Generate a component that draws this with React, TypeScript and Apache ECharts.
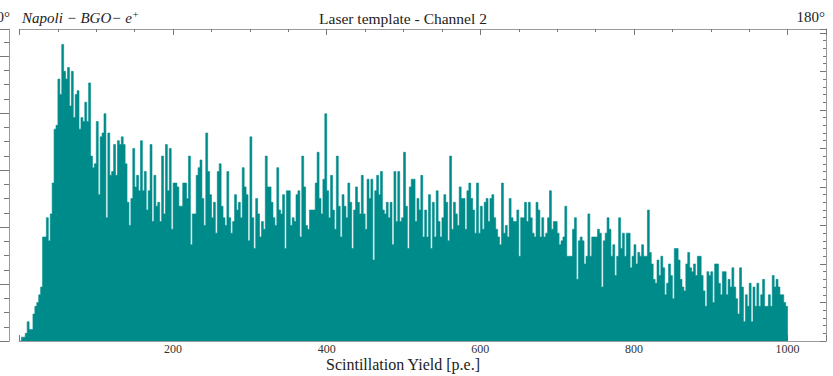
import React, { useEffect, useRef } from 'react';
import * as echarts from 'echarts';

// Histogram: bin width in p.e., counts per bin
const binWidth = 2.5;
const counts: number[] = [
  0, 1, 1, 2, 5, 3, 3, 7, 9, 10, 12, 14, 27, 27, 32, 26, 33, 41, 55, 56,
  68, 64, 77, 70, 68, 71, 61, 70, 58, 64, 65, 55, 58, 57, 62, 57, 67, 48, 45, 46,
  57, 38, 53, 54, 59, 32, 54, 43, 44, 51, 43, 52, 51, 53, 51, 46, 36, 30, 37, 50,
  40, 43, 39, 52, 39, 44, 34, 39, 51, 31, 43, 35, 36, 31, 48, 33, 51, 39, 50, 29,
  41, 41, 40, 35, 35, 41, 41, 37, 48, 25, 33, 33, 43, 45, 47, 37, 30, 54, 44, 38,
  32, 36, 28, 44, 46, 35, 32, 30, 44, 32, 28, 31, 38, 34, 36, 32, 45, 40, 38, 26,
  53, 32, 24, 37, 33, 27, 31, 29, 48, 40, 40, 36, 32, 30, 45, 34, 33, 38, 24, 39,
  39, 30, 32, 31, 38, 39, 27, 48, 40, 30, 29, 34, 34, 34, 41, 49, 37, 33, 42, 59,
  39, 32, 43, 34, 29, 48, 35, 27, 38, 35, 32, 41, 36, 24, 34, 40, 36, 33, 43, 33,
  29, 42, 37, 42, 21, 39, 43, 38, 44, 34, 33, 36, 32, 36, 25, 44, 31, 44, 31, 32,
  49, 35, 24, 40, 42, 42, 31, 37, 34, 43, 27, 34, 27, 38, 24, 36, 27, 39, 31, 27,
  32, 38, 36, 26, 48, 29, 36, 33, 30, 40, 37, 37, 29, 39, 41, 37, 34, 28, 41, 28,
  35, 29, 36, 37, 31, 37, 38, 32, 29, 27, 25, 41, 28, 30, 27, 37, 32, 31, 31, 34,
  22, 32, 32, 36, 31, 36, 32, 28, 27, 36, 34, 27, 32, 27, 28, 32, 39, 29, 31, 31,
  28, 25, 26, 27, 35, 22, 22, 22, 29, 32, 16, 26, 27, 26, 20, 22, 33, 22, 27, 27,
  27, 29, 28, 14, 26, 28, 32, 29, 22, 25, 17, 22, 32, 24, 28, 22, 28, 28, 19, 22,
  25, 20, 23, 22, 25, 22, 22, 34, 23, 20, 16, 15, 21, 17, 22, 19, 12, 15, 20, 17,
  11, 24, 24, 21, 16, 14, 13, 20, 23, 19, 18, 20, 17, 22, 22, 17, 13, 9, 18, 17,
  18, 10, 20, 20, 15, 12, 18, 18, 12, 16, 14, 19, 14, 11, 7, 19, 14, 5, 12, 9,
  15, 5, 14, 9, 15, 9, 12, 16, 9, 9, 12, 9, 17, 14, 16, 14, 12, 12, 10, 9,
];
const xMin = 0;
const xMax = 1050;
const xMajorStep = 200;
const xMinorStep = 50;
const xTickLabels = [200, 400, 600, 800, 1000];
const yMax = 81;
const yMajorStep = 10;
const yMinorStep = 2;

const titleText = 'Laser template - Channel 2';
const setupText = 'Napoli − BGO− e';
const angleText = '180°';
const xAxisTitle = 'Scintillation Yield [p.e.]';

const SERIF = '"Liberation Serif", "DejaVu Serif", serif';
const TEAL = '#008b8b';
const LINE = '#9a9a9a';
const TICK = '#777';

export default function App() {
  const ref = useRef<HTMLDivElement>(null);
  useEffect(() => {
    if (!ref.current) return;
    const chart = echarts.init(ref.current, undefined, { renderer: 'svg' });
    const histData: number[][] = counts.map((c, i) => [i * binWidth, c]);
    histData.push([counts.length * binWidth, 0]);

    const xBase = (pos: 'top' | 'bottom', interval: number, len: number, line: boolean, labels: boolean) => ({
      gridIndex: 0,
      type: 'value',
      position: pos,
      min: xMin,
      max: xMax,
      interval,
      axisLine: { show: line, onZero: false, lineStyle: { color: LINE, width: 1 } },
      axisTick: { show: true, inside: true, length: len, lineStyle: { color: TICK, width: 1 } },
      axisLabel: labels
        ? {
            show: true,
            margin: 2,
            color: '#333',
            fontFamily: SERIF,
            fontSize: 12,
            formatter: (v: number) => (xTickLabels.includes(v) ? String(v) : ''),
          }
        : { show: false },
      splitLine: { show: false },
    });

    const yBase = (gridIndex: number, max: number, interval: number, len: number, line: boolean) => ({
      gridIndex,
      type: 'value',
      position: 'right',
      min: 0,
      max,
      interval,
      axisLine: { show: line, onZero: false, lineStyle: { color: LINE, width: 1 } },
      axisTick: { show: true, inside: true, length: len, lineStyle: { color: TICK, width: 1 } },
      axisLabel: { show: false },
      splitLine: { show: false },
    });

    chart.setOption({
      animation: false,
      backgroundColor: '#ffffff',
      grid: [
        { left: 19.5, right: 7, top: 29, bottom: 35 },
        { left: 0, width: 9, top: 29, bottom: 35 },
      ],
      xAxis: [
        xBase('bottom', xMinorStep, 3, true, false),
        xBase('bottom', xMajorStep, 6, false, true),
        xBase('top', xMinorStep, 3, true, false),
        xBase('top', xMajorStep, 6, false, false),
        {
          gridIndex: 1,
          type: 'value',
          position: 'bottom',
          min: 0,
          max: 1,
          axisLine: { show: true, onZero: false, lineStyle: { color: LINE, width: 1 } },
          axisTick: { show: false },
          axisLabel: { show: false },
          splitLine: { show: false },
        },
      ],
      yAxis: [
        yBase(0, yMax, yMinorStep, 3, true),
        yBase(0, yMax, yMajorStep, 6, false),
        yBase(1, 21.9, 1, 5, true),
        yBase(1, 21.9, 4, 9, false),
      ],
      series: [
        {
          type: 'line',
          xAxisIndex: 0,
          yAxisIndex: 0,
          step: 'end',
          data: histData,
          showSymbol: false,
          symbol: 'none',
          silent: true,
          lineStyle: { color: TEAL, width: 0.6 },
          areaStyle: { color: TEAL, opacity: 1 },
        },
      ],
      graphic: [
        {
          type: 'text',
          x: 10,
          y: 17,
          style: { text: angleText, font: `15px ${SERIF}`, fill: '#222', textAlign: 'right', textVerticalAlign: 'middle' },
        },
        {
          type: 'text',
          x: 22,
          y: 18,
          style: {
            text: `{i|${setupText}}{s|+}`,
            textVerticalAlign: 'middle',
            rich: {
              i: { fontFamily: SERIF, fontStyle: 'italic', fontSize: 15, fill: '#222', color: '#222' },
              s: { fontFamily: SERIF, fontSize: 10, fill: '#222', color: '#222', verticalAlign: 'top', padding: [0, 0, 8, 1] },
            },
          },
        },
        {
          type: 'text',
          x: 403,
          y: 18,
          style: { text: titleText, font: `15.5px ${SERIF}`, fill: '#222', textAlign: 'center', textVerticalAlign: 'middle' },
        },
        {
          type: 'text',
          x: 825,
          y: 17,
          style: { text: angleText, font: `15px ${SERIF}`, fill: '#222', textAlign: 'right', textVerticalAlign: 'middle' },
        },
        {
          type: 'text',
          x: 403,
          y: 364,
          style: { text: xAxisTitle, font: `16px ${SERIF}`, fill: '#222', textAlign: 'center', textVerticalAlign: 'middle' },
        },
      ],
    });
    return () => chart.dispose();
  }, []);
  return <div ref={ref} style={{ position: 'absolute', left: 0, top: 0, width: 833, height: 376 }} />;
}
